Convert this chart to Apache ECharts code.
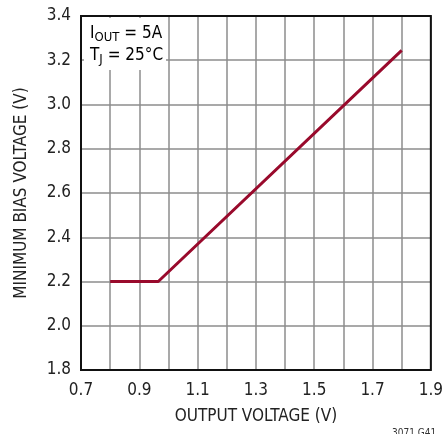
<!DOCTYPE html>
<html><head><meta charset="utf-8">
<script src="https://cdn.jsdelivr.net/npm/echarts@6/dist/echarts.min.js"></script>
<style>html,body{margin:0;padding:0;background:#fff}#c{width:446px;height:434px}</style>
</head><body><div id="c"></div>
<script>
var xValues = [0.8, 0.965, 1.8];
var yValues = [2.2, 2.2, 3.245];
var xTicks = ['0.7','0.9','1.1','1.3','1.5','1.7','1.9'];
var yTicks = ['1.8','2.0','2.2','2.4','2.6','2.8','3.0','3.2','3.4'];
var FONT = '"Liberation Sans Narrow", "DejaVu Sans Condensed", "Roboto Condensed", sans-serif';
var chart = echarts.init(document.getElementById('c'));
var data = xValues.map(function(x,i){return [x, yValues[i]];});
chart.setOption({
  animation:false,
  grid:{left:81,right:10,top:16,bottom:64,show:true,borderColor:'#111',borderWidth:2,backgroundColor:'transparent',z:3},
  xAxis:{type:'value',min:0.7,max:1.9,interval:0.1,
    name:'OUTPUT VOLTAGE (V)',nameLocation:'middle',nameGap:38,
    nameTextStyle:{fontFamily:FONT,fontSize:17,color:'#222'},
    axisLine:{show:false},axisTick:{show:false},
    splitLine:{show:true,lineStyle:{color:'#8c8c8c',width:1.5}},
    axisLabel:{margin:12,fontFamily:FONT,fontSize:17,color:'#222',
      formatter:function(v){var s=v.toFixed(1);return xTicks.indexOf(s)>=0?s:'';}}},
  yAxis:{type:'value',min:1.8,max:3.4,interval:0.2,
    name:'MINIMUM BIAS VOLTAGE (V)',nameLocation:'middle',nameGap:51,
    nameTextStyle:{fontFamily:FONT,fontSize:17,color:'#222'},
    axisLine:{show:false},axisTick:{show:false},
    splitLine:{show:true,lineStyle:{color:'#8c8c8c',width:1.5}},
    axisLabel:{margin:10,fontFamily:FONT,fontSize:17,color:'#222',
      formatter:function(v){var s=v.toFixed(1);return yTicks.indexOf(s)>=0?s:'';}}},
  series:[{type:'line',data:data,symbol:'none',z:4,
    lineStyle:{color:'#990a2c',width:3}}],
  graphic:[
    {type:'rect',left:84,top:18,z:5,shape:{width:82,height:52},style:{fill:'#fff'}},
    {type:'text',left:90,top:25,z:6,style:{
      text:'{m|I}{s|OUT}{m| = 5A}\n{m|T}{s|J}{m| = 25°C}',
      rich:{m:{fontFamily:FONT,fontSize:17,color:'#222',lineHeight:22},
            s:{fontFamily:FONT,fontSize:13,color:'#222',lineHeight:14,verticalAlign:'bottom'}}}},
    {type:'text',left:392,top:428,z:6,style:{text:'3071 G41',fontFamily:FONT,fontSize:10,fill:'#333'}}
  ]
});
</script></body></html>
